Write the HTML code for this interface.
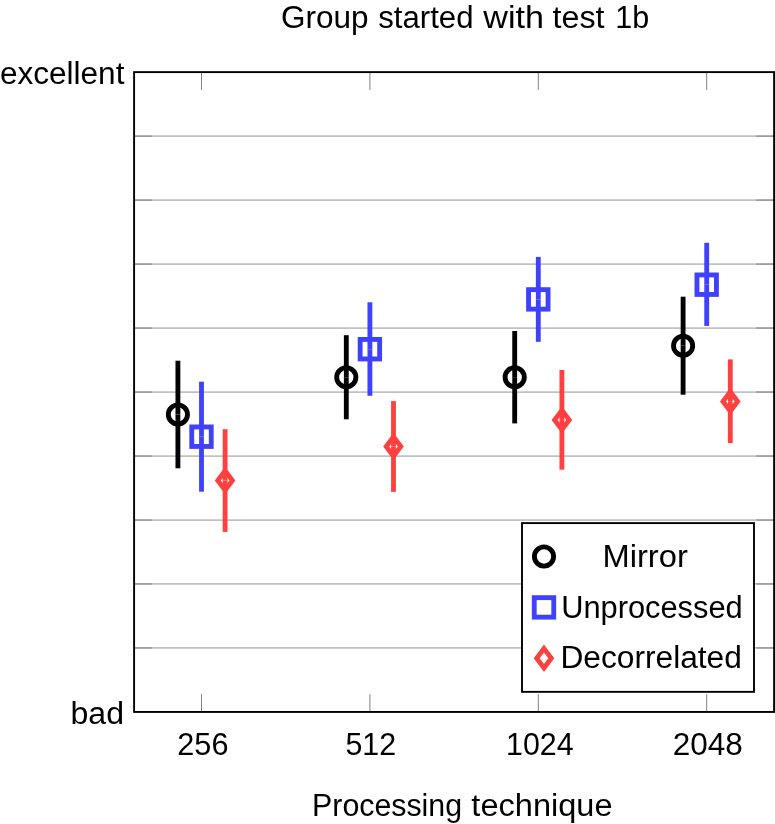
<!DOCTYPE html>
<html><head><meta charset="utf-8"><title>Group started with test 1b</title>
<style>
html,body{margin:0;padding:0;background:#fff;}
svg{display:block;}
text{font-family:"Liberation Sans",sans-serif;fill:#000;}
</style></head><body>
<svg width="775" height="824" viewBox="0 0 775 824">
<rect width="775" height="824" fill="#fff"/>
<g stroke="#c2c2c2" stroke-width="1.75">
<line x1="134.1" y1="136.08" x2="774.1" y2="136.08"/>
<line x1="134.1" y1="200.07" x2="774.1" y2="200.07"/>
<line x1="134.1" y1="264.06" x2="774.1" y2="264.06"/>
<line x1="134.1" y1="328.04" x2="774.1" y2="328.04"/>
<line x1="134.1" y1="392.02" x2="774.1" y2="392.02"/>
<line x1="134.1" y1="456.01" x2="774.1" y2="456.01"/>
<line x1="134.1" y1="520.00" x2="774.1" y2="520.00"/>
<line x1="134.1" y1="583.98" x2="774.1" y2="583.98"/>
<line x1="134.1" y1="647.97" x2="774.1" y2="647.97"/>
</g>
<g stroke="#808080" stroke-width="1">
<line x1="134.1" y1="136.08" x2="151.9" y2="136.08"/>
<line x1="774.1" y1="136.08" x2="756.3000000000001" y2="136.08"/>
<line x1="134.1" y1="200.07" x2="151.9" y2="200.07"/>
<line x1="774.1" y1="200.07" x2="756.3000000000001" y2="200.07"/>
<line x1="134.1" y1="264.06" x2="151.9" y2="264.06"/>
<line x1="774.1" y1="264.06" x2="756.3000000000001" y2="264.06"/>
<line x1="134.1" y1="328.04" x2="151.9" y2="328.04"/>
<line x1="774.1" y1="328.04" x2="756.3000000000001" y2="328.04"/>
<line x1="134.1" y1="392.02" x2="151.9" y2="392.02"/>
<line x1="774.1" y1="392.02" x2="756.3000000000001" y2="392.02"/>
<line x1="134.1" y1="456.01" x2="151.9" y2="456.01"/>
<line x1="774.1" y1="456.01" x2="756.3000000000001" y2="456.01"/>
<line x1="134.1" y1="520.00" x2="151.9" y2="520.00"/>
<line x1="774.1" y1="520.00" x2="756.3000000000001" y2="520.00"/>
<line x1="134.1" y1="583.98" x2="151.9" y2="583.98"/>
<line x1="774.1" y1="583.98" x2="756.3000000000001" y2="583.98"/>
<line x1="134.1" y1="647.97" x2="151.9" y2="647.97"/>
<line x1="774.1" y1="647.97" x2="756.3000000000001" y2="647.97"/>
<line x1="201.5" y1="72.1" x2="201.5" y2="89.89999999999999"/>
<line x1="201.5" y1="711.95" x2="201.5" y2="694.1500000000001"/>
<line x1="369.9" y1="72.1" x2="369.9" y2="89.89999999999999"/>
<line x1="369.9" y1="711.95" x2="369.9" y2="694.1500000000001"/>
<line x1="538.3" y1="72.1" x2="538.3" y2="89.89999999999999"/>
<line x1="538.3" y1="711.95" x2="538.3" y2="694.1500000000001"/>
<line x1="706.7" y1="72.1" x2="706.7" y2="89.89999999999999"/>
<line x1="706.7" y1="711.95" x2="706.7" y2="694.1500000000001"/>
</g>
<line x1="177.9" y1="414.5" x2="177.9" y2="360.7" stroke="#000000" stroke-width="4.85"/>
<line x1="177.9" y1="414.5" x2="177.9" y2="468.3" stroke="#000000" stroke-width="4.85"/>
<circle cx="177.9" cy="414.5" r="9.6" fill="none" stroke="#000000" stroke-width="4.85"/>
<line x1="201.5" y1="436.7" x2="201.5" y2="381.7" stroke="#4040ff" stroke-width="4.85"/>
<line x1="201.5" y1="436.7" x2="201.5" y2="491.7" stroke="#4040ff" stroke-width="4.85"/>
<rect x="191.75" y="426.95" width="19.5" height="19.5" fill="none" stroke="#4040ff" stroke-width="4.85"/>
<line x1="225.1" y1="480.5" x2="225.1" y2="429.2" stroke="#ff4040" stroke-width="4.85"/>
<line x1="225.1" y1="480.5" x2="225.1" y2="531.9" stroke="#ff4040" stroke-width="4.85"/>
<path d="M225.1 470.80L232.40 480.5L225.1 490.20L217.80 480.5Z" fill="none" stroke="#ff4040" stroke-width="4.85" stroke-miterlimit="10"/>
<line x1="346.3" y1="377.3" x2="346.3" y2="335.2" stroke="#000000" stroke-width="4.85"/>
<line x1="346.3" y1="377.3" x2="346.3" y2="419.3" stroke="#000000" stroke-width="4.85"/>
<circle cx="346.3" cy="377.3" r="9.6" fill="none" stroke="#000000" stroke-width="4.85"/>
<line x1="369.9" y1="349.2" x2="369.9" y2="302.3" stroke="#4040ff" stroke-width="4.85"/>
<line x1="369.9" y1="349.2" x2="369.9" y2="395.8" stroke="#4040ff" stroke-width="4.85"/>
<rect x="360.15" y="339.45" width="19.5" height="19.5" fill="none" stroke="#4040ff" stroke-width="4.85"/>
<line x1="393.5" y1="446.5" x2="393.5" y2="401.1" stroke="#ff4040" stroke-width="4.85"/>
<line x1="393.5" y1="446.5" x2="393.5" y2="491.9" stroke="#ff4040" stroke-width="4.85"/>
<path d="M393.5 436.80L400.80 446.5L393.5 456.20L386.20 446.5Z" fill="none" stroke="#ff4040" stroke-width="4.85" stroke-miterlimit="10"/>
<line x1="514.7" y1="377.2" x2="514.7" y2="331.0" stroke="#000000" stroke-width="4.85"/>
<line x1="514.7" y1="377.2" x2="514.7" y2="423.4" stroke="#000000" stroke-width="4.85"/>
<circle cx="514.7" cy="377.2" r="9.6" fill="none" stroke="#000000" stroke-width="4.85"/>
<line x1="538.3" y1="299.4" x2="538.3" y2="256.9" stroke="#4040ff" stroke-width="4.85"/>
<line x1="538.3" y1="299.4" x2="538.3" y2="341.8" stroke="#4040ff" stroke-width="4.85"/>
<rect x="528.55" y="289.65" width="19.5" height="19.5" fill="none" stroke="#4040ff" stroke-width="4.85"/>
<line x1="561.9" y1="419.9" x2="561.9" y2="370.0" stroke="#ff4040" stroke-width="4.85"/>
<line x1="561.9" y1="419.9" x2="561.9" y2="469.7" stroke="#ff4040" stroke-width="4.85"/>
<path d="M561.9 410.20L569.20 419.9L561.9 429.60L554.60 419.9Z" fill="none" stroke="#ff4040" stroke-width="4.85" stroke-miterlimit="10"/>
<line x1="683.1" y1="345.7" x2="683.1" y2="296.7" stroke="#000000" stroke-width="4.85"/>
<line x1="683.1" y1="345.7" x2="683.1" y2="394.7" stroke="#000000" stroke-width="4.85"/>
<circle cx="683.1" cy="345.7" r="9.6" fill="none" stroke="#000000" stroke-width="4.85"/>
<line x1="706.7" y1="284.7" x2="706.7" y2="242.8" stroke="#4040ff" stroke-width="4.85"/>
<line x1="706.7" y1="284.7" x2="706.7" y2="325.9" stroke="#4040ff" stroke-width="4.85"/>
<rect x="696.95" y="274.95" width="19.5" height="19.5" fill="none" stroke="#4040ff" stroke-width="4.85"/>
<line x1="730.3" y1="401.4" x2="730.3" y2="359.4" stroke="#ff4040" stroke-width="4.85"/>
<line x1="730.3" y1="401.4" x2="730.3" y2="443.1" stroke="#ff4040" stroke-width="4.85"/>
<path d="M730.3 391.70L737.60 401.4L730.3 411.10L723.00 401.4Z" fill="none" stroke="#ff4040" stroke-width="4.85" stroke-miterlimit="10"/>
<rect x="134.1" y="72.1" width="640.00" height="639.85" fill="none" stroke="#000" stroke-width="1.9"/>
<rect x="522" y="523.1" width="232" height="168.75" fill="#fff" stroke="#000" stroke-width="1.9"/>
<circle cx="544.0" cy="556.5" r="9.6" fill="none" stroke="#000000" stroke-width="4.85"/>
<rect x="534.25" y="597.65" width="19.5" height="19.5" fill="none" stroke="#4040ff" stroke-width="4.85"/>
<path d="M544.0 648.60L551.30 658.3L544.0 668.00L536.70 658.3Z" fill="none" stroke="#ff4040" stroke-width="4.85" stroke-miterlimit="10"/>
<text x="281.02" y="27.5" font-size="30.6" textLength="87.55" lengthAdjust="spacingAndGlyphs">Group</text>
<text x="378.24" y="27.5" font-size="30.6" textLength="95.27" lengthAdjust="spacingAndGlyphs">started</text>
<text x="483.28" y="27.5" font-size="30.6" textLength="60.71" lengthAdjust="spacingAndGlyphs">with</text>
<text x="552.58" y="27.5" font-size="30.6" textLength="51.95" lengthAdjust="spacingAndGlyphs">test</text>
<text x="615.29" y="27.5" font-size="30.6" textLength="33.93" lengthAdjust="spacingAndGlyphs">1b</text>
<text x="-0.11" y="83.6" font-size="30.6" textLength="124.52" lengthAdjust="spacingAndGlyphs">excellent</text>
<text x="70.49" y="723.6" font-size="30.6" textLength="53.54" lengthAdjust="spacingAndGlyphs">bad</text>
<text x="177.29" y="754.7" font-size="30.6" textLength="51.16" lengthAdjust="spacingAndGlyphs">256</text>
<text x="345.39" y="754.7" font-size="30.6" textLength="50.74" lengthAdjust="spacingAndGlyphs">512</text>
<text x="506.00" y="754.7" font-size="30.6" textLength="67.53" lengthAdjust="spacingAndGlyphs">1024</text>
<text x="672.71" y="754.7" font-size="30.6" textLength="70.06" lengthAdjust="spacingAndGlyphs">2048</text>
<text x="312.12" y="815.6" font-size="30.6" textLength="149.94" lengthAdjust="spacingAndGlyphs">Processing</text>
<text x="471.39" y="815.6" font-size="30.6" textLength="141.14" lengthAdjust="spacingAndGlyphs">technique</text>
<text x="602.53" y="566.6" font-size="30.6" textLength="85.30" lengthAdjust="spacingAndGlyphs">Mirror</text>
<text x="561.25" y="617.5" font-size="30.6" textLength="181.41" lengthAdjust="spacingAndGlyphs">Unprocessed</text>
<text x="560.41" y="668.4" font-size="30.6" textLength="181.47" lengthAdjust="spacingAndGlyphs">Decorrelated</text>
</svg></body></html>
